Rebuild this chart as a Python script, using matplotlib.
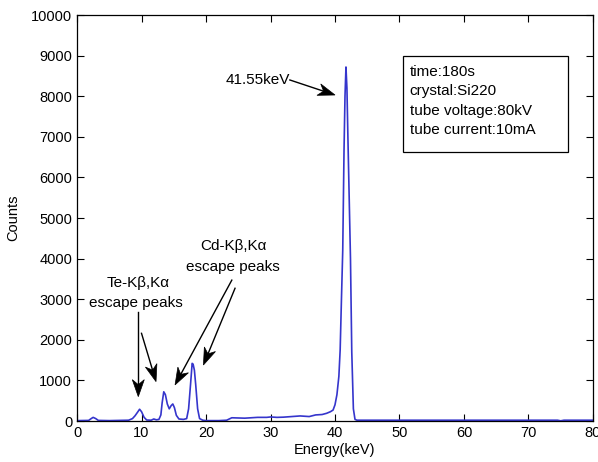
import matplotlib
matplotlib.use("Agg")
import matplotlib.pyplot as plt
import numpy as np
from matplotlib.patches import Rectangle, Polygon

plt.rcParams['font.family'] = ['Liberation Sans', 'DejaVu Sans']

energy = [0, 1.8, 2.2, 2.5, 2.9, 3.3, 5, 8, 8.6, 9.0, 9.4, 9.7, 10.0, 10.4, 10.8,
          11.5, 11.9, 12.3, 12.7, 13.0, 13.2, 13.45, 13.7, 14.0, 14.3, 14.6, 14.85,
          15.1, 15.4, 15.8, 16.5, 17.0, 17.3, 17.6, 17.85, 18.0, 18.2, 18.4, 18.7,
          19.0, 19.5, 20, 22, 23.2, 24, 26, 28, 29.4, 30, 31, 32, 34.6, 36, 37, 38,
          38.7, 39.3, 39.7, 40.0, 40.3, 40.6, 40.8, 41.0, 41.2, 41.4, 41.55, 41.7,
          41.85, 42.0, 42.2, 42.4, 42.6, 42.85, 43.1, 43.4, 45, 60, 74.5, 75, 75.5, 80]
counts = [10, 15, 60, 90, 60, 15, 10, 20, 60, 130, 220, 290, 230, 90, 25,
          20, 50, 30, 40, 150, 450, 720, 650, 420, 300, 380, 420,
          330, 140, 50, 40, 60, 300, 900, 1420, 1400, 1250, 900, 300,
          60, 20, 10, 10, 20, 80, 70, 90, 90, 100, 90, 95, 125, 110, 150, 160,
          190, 230, 270, 400, 650, 1100, 1750, 3000, 4200, 6670, 8000, 8720,
          8200, 7000, 5500, 4000, 1700, 300, 40, 20, 20, 20, 20, 5, 20, 20]

xticks = [0, 10, 20, 30, 40, 50, 60, 70, 80]
yticks = [0, 1000, 2000, 3000, 4000, 5000, 6000, 7000, 8000, 9000, 10000]
info_lines = ["time:180s", "crystal:Si220", "tube voltage:80kV", "tube current:10mA"]

FS = 11

fig = plt.figure(figsize=(5.98, 4.62), dpi=100)
ax = fig.add_axes([0.1288, 0.0887, 0.8628, 0.8788])
ax.plot(energy, counts, color='#3535cc', linewidth=1.2)
ax.set_xlim(0, 80)
ax.set_ylim(0, 10000)
ax.set_xticks(xticks)
ax.set_yticks(yticks)
ax.tick_params(direction='in', length=5, top=True, right=True, labelsize=10.5, width=0.8)
for s in ax.spines.values():
    s.set_linewidth(0.9)
ax.set_xlabel("Energy(keV)", fontsize=10.5, labelpad=2)
ax.set_ylabel("Counts", fontsize=10.5, labelpad=8)

# info box
ax.add_patch(Rectangle((0.632, 0.663), 0.320, 0.237, transform=ax.transAxes,
                       fill=False, edgecolor='black', linewidth=0.9))
for i, line in enumerate(info_lines):
    ax.text(0.645, 0.860 - i * 0.0478, line, transform=ax.transAxes,
            fontsize=FS, va='center', ha='left')

def arrow(p0, p1, L=17.0, W=6.0, N=5.0):
    a = ax.transData.transform(p0)
    b = ax.transData.transform(p1)
    d = b - a
    u = d / np.hypot(*d)
    n = np.array([-u[1], u[0]])
    back = b - u * L
    notch = b - u * (L - N)
    pts = np.array([b, back + n * W, notch, back - n * W])
    inv = ax.transData.inverted()
    pts_d = inv.transform(pts)
    a_d = np.array(p0)
    notch_d = inv.transform(notch)
    ax.plot([a_d[0], notch_d[0]], [a_d[1], notch_d[1]], color='black', linewidth=1.0)
    ax.add_patch(Polygon(pts_d, closed=True, facecolor='black', edgecolor='black',
                         linewidth=0.5))

ax.text(33.0, 8400, "41.55keV", ha='right', va='center', fontsize=FS)
arrow((33.0, 8400), (40.0, 8030))

ax.text(9.4, 3390, "Te-K\u03b2,K\u03b1", ha='center', va='center', fontsize=FS)
ax.text(9.2, 2900, "escape peaks", ha='center', va='center', fontsize=FS)
arrow((9.5, 2690), (9.5, 600))
arrow((10.0, 2160), (12.25, 970))

ax.text(24.2, 4300, "Cd-K\u03b2,K\u03b1", ha='center', va='center', fontsize=FS)
ax.text(24.2, 3800, "escape peaks", ha='center', va='center', fontsize=FS)
arrow((24.0, 3470), (15.2, 890))
arrow((24.5, 3270), (19.6, 1380))

fig.savefig("out.png", dpi=100)
